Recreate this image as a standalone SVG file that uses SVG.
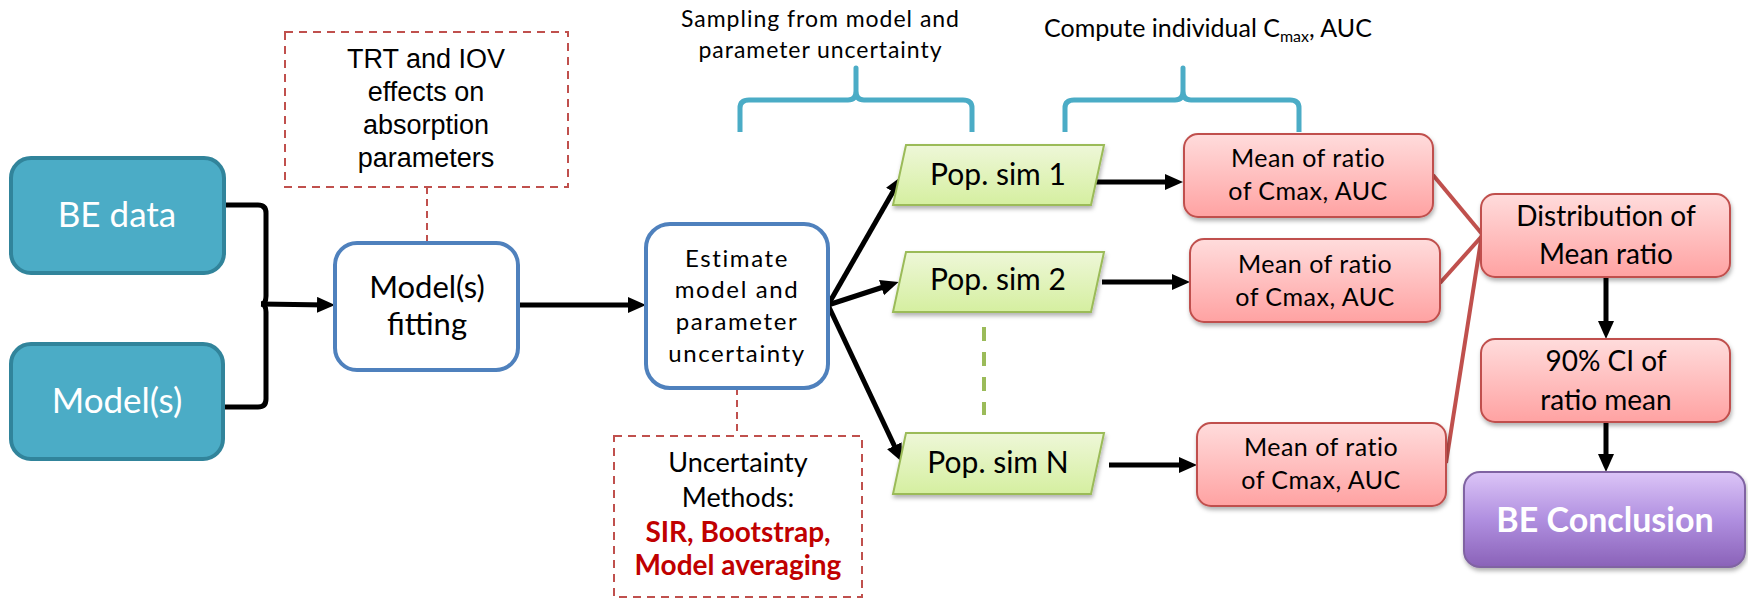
<svg xmlns="http://www.w3.org/2000/svg" width="1748" height="600" viewBox="0 0 1748 600">
<defs>
<style>
.cal{font-family:Lato,"Noto Sans",sans-serif;fill:#000;text-anchor:middle}
.ari{font-family:"Liberation Sans",Arial,sans-serif;fill:#000;text-anchor:middle}
.blue{fill:#4bacc6;stroke:#31849b;stroke-width:4}
.proc{fill:#fff;stroke:#4f81bd;stroke-width:4}
.note{fill:none;stroke:#c0504d;stroke-width:2;stroke-dasharray:8 6}
.sim{fill:url(#gSim);stroke:#9bbb59;stroke-width:2;filter:url(#sh)}
.mean{fill:url(#gRed);stroke:#c0504d;stroke-width:2;filter:url(#sh)}
.arr{stroke:#000;stroke-width:5;fill:none;marker-end:url(#ah)}
.brace{stroke:#4bacc6;stroke-width:5;fill:none;stroke-linejoin:round}
.red{stroke:#c0504d;stroke-width:4;fill:none}
</style>
<linearGradient id="gSim" x1="0" y1="0" x2="0" y2="1"><stop offset="0" stop-color="#eef7d8"/><stop offset="1" stop-color="#d5efa0"/></linearGradient>
<linearGradient id="gRed" x1="0" y1="0" x2="0" y2="1"><stop offset="0" stop-color="#ffdcdc"/><stop offset="1" stop-color="#ffa2a2"/></linearGradient>
<linearGradient id="gPur" x1="0" y1="0" x2="0" y2="1"><stop offset="0" stop-color="#dcc5f7"/><stop offset="0.5" stop-color="#b08fe0"/><stop offset="1" stop-color="#8a62b8"/></linearGradient>
<filter id="sh" x="-10%" y="-10%" width="125%" height="135%"><feDropShadow dx="1" dy="3" stdDeviation="2" flood-color="#000" flood-opacity="0.3"/></filter>
<marker id="ah" markerUnits="userSpaceOnUse" markerWidth="20" markerHeight="18" refX="10" refY="8" orient="auto"><path d="M0,0 L18,8 L0,16 z" fill="#000"/></marker>
</defs>
<rect width="1748" height="600" fill="#fff"/>

<g id="connectors">
<path d="M225,205 H258 Q266,205 266,213 V296 Q266,304 261,304 Q266,304 266,312 V399 Q266,407 258,407 H225" stroke="#000" stroke-width="5" fill="none"/>
<line class="arr" x1="261" y1="304" x2="327" y2="305"/>
<line x1="427" y1="187" x2="427" y2="243" stroke="#c0504d" stroke-width="2" stroke-dasharray="7 5"/>
<line class="arr" x1="518" y1="305" x2="638" y2="305"/>
<line x1="737" y1="388" x2="737" y2="436" stroke="#c0504d" stroke-width="2" stroke-dasharray="7 5"/>
<line class="arr" x1="828" y1="305" x2="898" y2="183"/>
<line class="arr" x1="828" y1="305" x2="891" y2="284.5"/>
<line class="arr" x1="828" y1="305" x2="898.6" y2="454.8"/>
<line x1="984" y1="327" x2="984" y2="415" stroke="#9bbb59" stroke-width="4" stroke-dasharray="14 11"/>
<line class="arr" x1="1095" y1="182" x2="1175" y2="182"/>
<line class="arr" x1="1102" y1="282" x2="1182" y2="282"/>
<line class="arr" x1="1109" y1="465" x2="1189" y2="465"/>
<line class="red" x1="1433" y1="175" x2="1482" y2="234"/>
<line class="red" x1="1440" y1="283" x2="1482" y2="236"/>
<line class="red" x1="1446" y1="463" x2="1482" y2="234"/>
<line class="arr" x1="1606" y1="277" x2="1606" y2="331"/>
<line class="arr" x1="1606" y1="422" x2="1606" y2="464"/>
</g>

<g id="annotations">
<text class="cal" x="820" y="27" font-size="23" textLength="278">Sampling from model and</text>
<text class="cal" x="820" y="58" font-size="23" textLength="243">parameter uncertainty</text>
<path class="brace" d="M740,132 V108 Q740,100 749,100 H848 Q856,100 856,91 V68 V91 Q856,100 864,100 H963 Q972,100 972,108 V132"/>
<text class="cal" x="1208" y="37" font-size="25">Compute individual C<tspan font-size="16" dy="5">max</tspan><tspan dy="-5">, AUC</tspan></text>
<path class="brace" d="M1065,132 V108 Q1065,100 1074,100 H1175 Q1183,100 1183,91 V68 V91 Q1183,100 1191,100 H1290 Q1299,100 1299,108 V132"/>
</g>

<g id="be-data">
<rect class="blue" x="11" y="158" width="213" height="115" rx="20"/>
<text class="cal" x="117" y="227" font-size="35" style="fill:#fff">BE data</text>
</g>
<g id="models">
<rect class="blue" x="11" y="344" width="212" height="115" rx="20"/>
<text class="cal" x="117" y="413" font-size="35" style="fill:#fff">Model(s)</text>
</g>
<g id="trt-note">
<rect class="note" x="285" y="32" width="283" height="155"/>
<text class="ari" x="426" y="68" font-size="27">TRT and IOV</text>
<text class="ari" x="426" y="101" font-size="27">effects on</text>
<text class="ari" x="426" y="134" font-size="27">absorption</text>
<text class="ari" x="426" y="167" font-size="27">parameters</text>
</g>
<g id="model-fitting">
<rect class="proc" x="335" y="243" width="183" height="127" rx="22"/>
<text class="cal" x="427" y="298" font-size="31">Model(s)</text>
<text class="cal" x="427" y="335" font-size="31">fitting</text>
</g>
<g id="estimate">
<rect class="proc" x="646" y="224" width="182" height="164" rx="24"/>
<text class="cal" x="737" y="267" font-size="24" letter-spacing="1.6">Estimate</text>
<text class="cal" x="737" y="298" font-size="24" letter-spacing="1.6">model and</text>
<text class="cal" x="737" y="330" font-size="24" letter-spacing="1.6">parameter</text>
<text class="cal" x="737" y="362" font-size="24" letter-spacing="1.6">uncertainty</text>
</g>
<g id="uncertainty-note">
<rect class="note" x="614" y="436" width="248" height="161"/>
<text class="cal" x="738" y="472" font-size="27">Uncertainty</text>
<text class="cal" x="738" y="507" font-size="27">Methods:</text>
<text class="cal" x="738" y="542" font-size="28" font-weight="bold" style="fill:#c00000">SIR, Bootstrap,</text>
<text class="cal" x="738" y="575" font-size="28" font-weight="bold" style="fill:#c00000">Model averaging</text>
</g>
<g id="sim1">
<polygon class="sim" points="906,145 1104,145 1091,205 893,205"/>
<text class="cal" x="998" y="185" font-size="30">Pop. sim 1</text>
</g>
<g id="sim2">
<polygon class="sim" points="906,252 1104,252 1091,312 893,312"/>
<text class="cal" x="998" y="290" font-size="30">Pop. sim 2</text>
</g>
<g id="simN">
<polygon class="sim" points="906,433 1104,433 1091,494 893,494"/>
<text class="cal" x="998" y="473" font-size="30">Pop. sim N</text>
</g>
<g id="mean1">
<rect class="mean" x="1184" y="134" width="249" height="83" rx="14"/>
<text class="cal" x="1308" y="167" font-size="25" letter-spacing="0.5">Mean of ratio</text>
<text class="cal" x="1308" y="200" font-size="25" letter-spacing="0.5">of Cmax, AUC</text>
</g>
<g id="mean2">
<rect class="mean" x="1190" y="239" width="250" height="83" rx="14"/>
<text class="cal" x="1315" y="273" font-size="25" letter-spacing="0.5">Mean of ratio</text>
<text class="cal" x="1315" y="306" font-size="25" letter-spacing="0.5">of Cmax, AUC</text>
</g>
<g id="meanN">
<rect class="mean" x="1197" y="423" width="249" height="83" rx="14"/>
<text class="cal" x="1321" y="456" font-size="25" letter-spacing="0.5">Mean of ratio</text>
<text class="cal" x="1321" y="489" font-size="25" letter-spacing="0.5">of Cmax, AUC</text>
</g>
<g id="distribution">
<rect class="mean" x="1481" y="194" width="249" height="83" rx="14"/>
<text class="cal" x="1606" y="226" font-size="28">Distribution of</text>
<text class="cal" x="1606" y="264" font-size="28">Mean ratio</text>
</g>
<g id="ci">
<rect class="mean" x="1481" y="339" width="249" height="83" rx="14"/>
<text class="cal" x="1606" y="371" font-size="28">90% CI of</text>
<text class="cal" x="1606" y="410" font-size="28">ratio mean</text>
</g>
<g id="conclusion">
<rect x="1464" y="472" width="281" height="95" rx="16" fill="url(#gPur)" stroke="#8064a2" stroke-width="2" filter="url(#sh)"/>
<text class="cal" x="1605" y="532" font-size="34" font-weight="bold" style="fill:#fff">BE Conclusion</text>
</g>
</svg>
